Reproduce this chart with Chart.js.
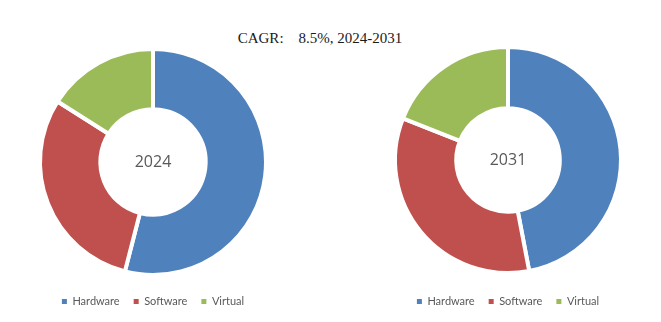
<!DOCTYPE html>
<html>
<head>
<meta charset="utf-8">
<script src="https://cdn.jsdelivr.net/npm/chart.js@4.4.1/dist/chart.umd.min.js"></script>
<style>
  html, body { margin: 0; padding: 0; background: #fff; }
  body { width: 661px; height: 322px; position: relative; overflow: hidden; }
  .title {
    position: absolute; top: 30px; left: 0; width: 640px; text-align: center;
    font-family: "Liberation Serif", "DejaVu Serif", serif; font-size: 15px; color: #1a1a1a;
    white-space: pre;
  }
  .box { position: absolute; top: 0; width: 306px; height: 322px; }
  #leftBox { left: 0; }
  #rightBox { left: 355px; }
</style>
</head>
<body>
<div class="title">CAGR:    8.5%, 2024-2031</div>
<div class="box" id="leftBox"><canvas id="chart2024"></canvas></div>
<div class="box" id="rightBox"><canvas id="chart2031"></canvas></div>
<script>
// segment shares (%)
const segments = ['Hardware', 'Software', 'Virtual'];
const share2024 = [54, 30, 16];
const share2031 = [47, 34, 19];
const segColors = ['#4F81BD', '#C0504D', '#9BBB59'];

// writes the year in the hole of the ring
const centerLabel = {
  id: 'centerLabel',
  afterDatasetsDraw(chart, args, opts) {
    const meta = chart.getDatasetMeta(0);
    if (!meta.data.length) return;
    const { x, y } = meta.data[0];
    const ctx = chart.ctx;
    ctx.save();
    ctx.font = '16px "Open Sans", sans-serif';
    ctx.fillStyle = '#595959';
    ctx.textAlign = 'center';
    ctx.textBaseline = 'middle';
    ctx.fillText(opts.text, x, y);
    ctx.restore();
  }
};

// legend squares without the white slice border
function flatLabels(chart) {
  const items = Chart.overrides.doughnut.plugins.legend.labels.generateLabels(chart);
  items.forEach(it => { it.lineWidth = 0; it.strokeStyle = it.fillStyle; });
  return items;
}

function makeRing(id, values, year, padTop) {
  return new Chart(document.getElementById(id), {
    type: 'doughnut',
    data: {
      labels: segments,
      datasets: [{
        data: values,
        backgroundColor: segColors,
        borderColor: '#ffffff',
        borderWidth: 4,
        hoverOffset: 0,
        radius: 113
      }]
    },
    options: {
      responsive: true,
      maintainAspectRatio: false,
      animation: false,
      cutout: 55,
      layout: { padding: { top: padTop, bottom: 5, left: 0, right: 0 } },
      plugins: {
        centerLabel: { text: year },
        tooltip: { enabled: false },
        legend: {
          position: 'bottom',
          labels: {
            boxWidth: 5,
            boxHeight: 5,
            padding: 14,
            color: '#595959',
            font: { family: 'Lato, sans-serif', size: 11 },
            generateLabels: flatLabels
          }
        }
      }
    },
    plugins: [centerLabel]
  });
}

makeRing('chart2024', share2024, '2024', 42);
makeRing('chart2031', share2031, '2031', 38);
</script>
</body>
</html>
